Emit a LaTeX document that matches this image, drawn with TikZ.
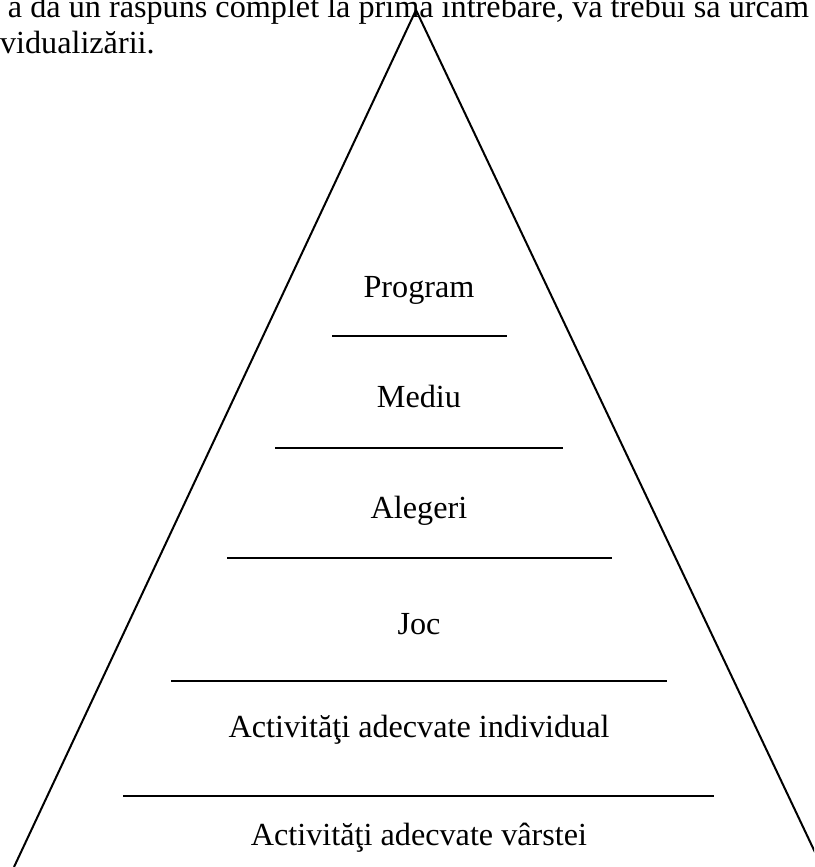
\documentclass[tikz,border=0pt]{standalone}
\usepackage{fontspec}
\setmainfont{Liberation Serif}
\tikzset{
  levellabel/.style={font=\fontsize{16.1}{19}\selectfont, anchor=base},
  bodytext/.style={font=\fontsize{16.1}{19}\selectfont, anchor=base west},
  levelrule/.style={line width=0.75pt, line cap=butt},
}
\begin{document}
\begin{tikzpicture}[y=0.5pt, x=0.5pt, yscale=-1, inner sep=0pt, outer sep=0pt]
  \useasboundingbox (0,0) rectangle (814,867);
  \clip (0,0) rectangle (814,867);
  % running text above the figure
  \node[bodytext] (line1) at (8,18) {a da un răspuns complet la prima întrebare, va trebui să urcăm};
  \node[bodytext] (line2) at (0,54) {vidualizării.};
  % pyramid
  \coordinate (apex) at (416,10);
  \coordinate (baseL) at (14,867);
  \coordinate (baseR) at (822,867);
  \path[draw=black, line width=1pt, line join=miter] (baseL) -- (apex) -- (baseR);
  % levels
  \node[levellabel] (program) at (419,297) {Program};
  \path[draw=black, levelrule] (332,336) -- (507,336);
  \node[levellabel] (mediu) at (419,407) {Mediu};
  \path[draw=black, levelrule] (275,448) -- (563,448);
  \node[levellabel] (alegeri) at (419,518) {Alegeri};
  \path[draw=black, levelrule] (227,558) -- (612,558);
  \node[levellabel] (joc) at (419,634) {Joc};
  \path[draw=black, levelrule] (171,681) -- (667,681);
  \node[levellabel] (individual) at (419,737) {Activităţi adecvate individual};
  \path[draw=black, levelrule] (123,796) -- (714,796);
  \node[levellabel] (varsta) at (419,845) {Activităţi adecvate vârstei};
\end{tikzpicture}
\end{document}
